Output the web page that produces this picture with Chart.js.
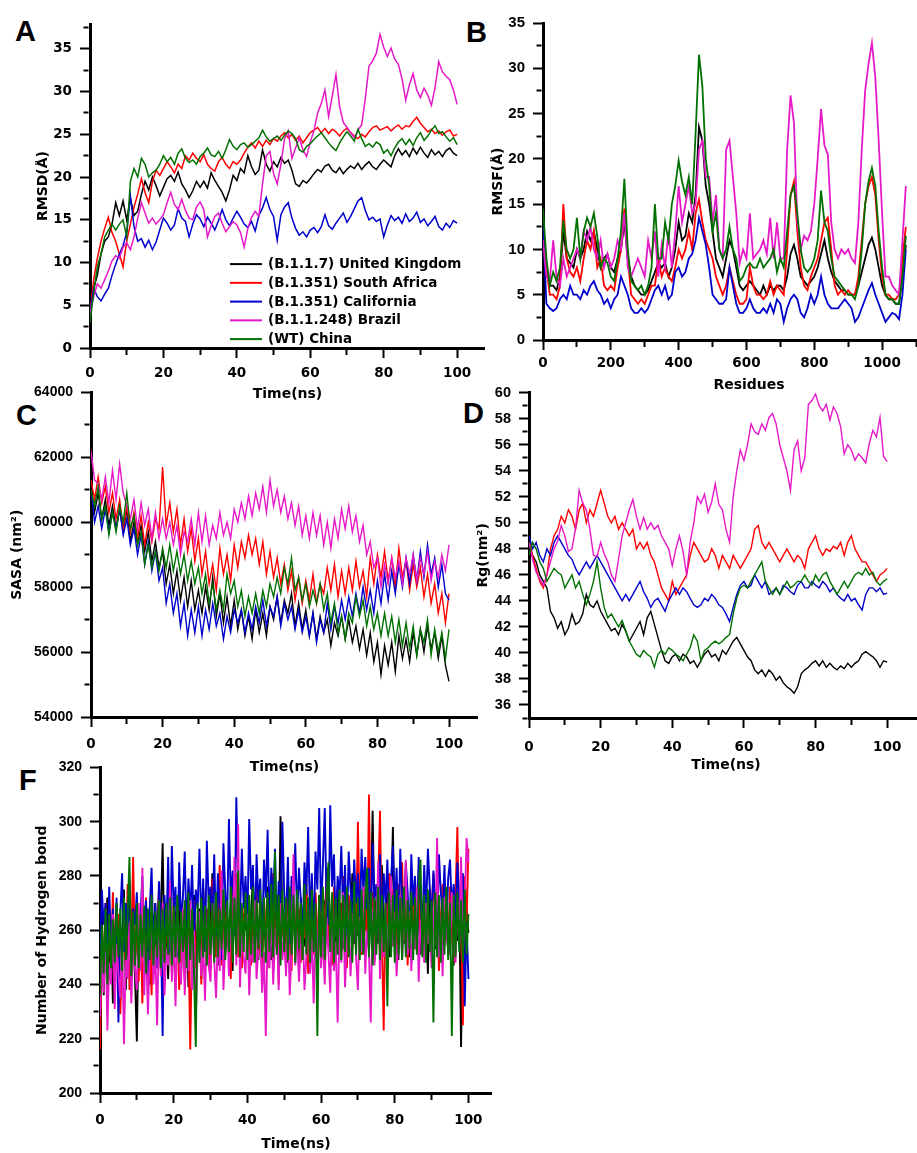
<!DOCTYPE html>
<html><head><meta charset="utf-8">
<script src="https://cdn.jsdelivr.net/npm/chart.js@4.4.1/dist/chart.umd.min.js"></script>
<style>
html,body{margin:0;padding:0;background:#fff;overflow:hidden;width:917px;height:1153px;}
canvas{position:absolute;}
.lbl{position:absolute;font-family:'Liberation Sans',Arial,sans-serif;font-weight:bold;font-size:29px;line-height:29px;color:#000;}
</style></head><body>
<div class="lbl" style="left:15px;top:17px">A</div>
<div class="lbl" style="left:466px;top:18px">B</div>
<div class="lbl" style="left:16px;top:401px">C</div>
<div class="lbl" style="left:463px;top:399px">D</div>
<div class="lbl" style="left:19px;top:766px">F</div>
<canvas id="cA" width="450" height="395" style="left:35px;top:8px"></canvas>
<canvas id="cB" width="465" height="388" style="left:490px;top:6px"></canvas>
<canvas id="cC" width="469" height="400" style="left:9px;top:376px"></canvas>
<canvas id="cD" width="459" height="398" style="left:475px;top:376px"></canvas>
<canvas id="cF" width="458" height="402" style="left:34px;top:751px"></canvas>
<script>
// ---------- names, colours ----------
const seriesNames = ['(B.1.1.7) United Kingdom','(B.1.351) South Africa','(B.1.351) California','(B.1.1.248) Brazil','(WT) China'];
const seriesColors = ['#000000','#ff0000','#0000cc','#e619c8','#007000'];
const drawOrder = [4,3,2,1,0];

// ---------- tick labels ----------
const timeLabels = [0,20,40,60,80,100];
const residueLabels = [0,200,400,600,800,1000];
const rmsdLabels = [0,5,10,15,20,25,30,35];
const rmsfLabels = [0,5,10,15,20,25,30,35];
const sasaLabels = [54000,56000,58000,60000,62000,64000];
const rgLabels = [36,38,40,42,44,46,48,50,52,54,56,58,60];
const hbondLabels = [200,220,240,260,280,300,320];

// ---------- sampling grids ----------
const timeA = Array.from({length:101},(_,i)=>i);
const residues = Array.from({length:108},(_,i)=>i*10);
const timeF = Array.from({length:201},(_,i)=>i/2);

// ---------- A: RMSD ----------
const rmsdUK = [3.5,7,8.5,11,12.5,13,14.5,17,15.5,17.2,15,
17.5,15.5,16,18,19.5,18.5,20,19,17.8,18.8,
19.8,20.2,19.5,20.6,19.2,18.5,17.6,18.4,19.5,18.8,
19.5,18.7,20.5,19.6,18.9,18.2,17.2,18.5,20.2,19.6,
21,20.5,22.5,21.2,20.3,20.8,23.2,21.5,20.7,21.8,
21.2,22.3,21.6,22,20.8,19.2,18.9,19.6,19.3,19.8,
20.4,20.9,20.6,21.3,21.5,20.8,20.5,21.1,20.4,20.9,
21.3,21.0,21.6,20.9,21.4,21.8,21.2,20.9,21.5,22,
21.6,21.2,22.5,23.3,22.6,23.1,22.4,23.4,22.7,23.5,
22.8,22.3,23.2,22.6,23,22.4,23.1,23.4,22.8,22.5];
const rmsdSA = [4,8,10.5,12.5,14,15.3,13.5,12.5,11,9.5,12.5,
14.5,16.5,18,19.8,18.2,17,19.5,20.8,20.2,21,
21.8,21.2,20.5,21.5,21,22.5,22,22.8,22.2,21.8,
22.6,21.5,21,20.7,21.8,22.3,21.5,21,21.8,21.5,
22,22.8,23.5,24,23.4,24.2,23.6,24.3,23.8,24.5,
24.2,24.8,25.2,24.6,25,24.3,24.8,24,24.6,25.2,
25.5,25.8,25.2,25.7,25.1,25.6,25.3,24.8,25.4,25.7,
25.2,24.8,24.5,25,24.7,25.3,25.8,26,25.5,25.7,
25.9,25.4,25.8,26.1,25.6,26,25.9,26.5,27,26.3,
25.8,25.3,25.6,25.1,25.4,24.9,25.3,25.5,24.8,25];
const rmsdCA = [4,7,6,5.5,6.3,7,8.5,9.8,11,12,13.5,
17.8,14.2,12.5,12.8,11.8,12.6,11.5,12.4,13.8,15.2,
14.6,13.8,14.4,16.3,15.2,14.8,13,14.5,15.6,15.1,
14.2,15.3,14.6,13.8,14.9,16.2,15,14.3,15.2,16,
15.3,14.5,14.1,14.8,13.7,15.5,16.4,17.6,16.2,15.4,
12.6,15.6,16.5,17,15.2,14,13.2,13.6,13,13.8,
14.1,13.5,14.2,15.6,14.3,13.9,14.6,15.2,15.8,14.7,
15.4,16.3,17.2,17.6,16.1,15,15.3,14.8,15.1,13,
14.4,15.5,14.9,15.3,14.6,15.7,14.8,15.2,15.9,14.7,
15.1,14.3,14.8,15.4,14.2,13.8,14.6,14.1,14.9,14.6];
const rmsdBR = [4,6,7.5,7,8,9,10.2,10.8,10.5,11.8,12.3,
11.5,13,15.2,17,15.8,14.6,15.2,14.5,15,15.6,
17,18.2,16.8,16.2,17.4,16.1,15.2,15,16.5,17.1,
16.2,13,14.3,15.4,15.8,14.6,13.6,14.2,14.8,14.4,
13.5,11.8,14,15.3,16,15.4,19.2,22.5,23,20.4,
19.2,21.5,24.5,25.4,22.2,23.4,24.6,23.2,22.4,24.1,
25.4,27.5,28.6,30.2,27.1,29.5,32,28.2,26.4,25.8,
25.2,24.6,25.5,26.1,29.2,33,33.6,34.5,36.7,35.2,
34.1,35.1,33.8,33.2,31.5,29,30.8,32.1,30.2,29.3,
30.4,29.6,28.4,30.5,33.5,32.3,31.8,31.4,30.2,28.5];
const rmsdCN = [3,6.5,9.5,11,13,13.8,14.5,13.8,14.5,15,13,
19.5,21,20,22.2,21.5,20,20.5,20.8,21.5,22.5,
21.8,22.3,21.5,22.8,23.3,22.2,21.7,22,21.5,22.4,
22.8,23.4,22.6,22.4,23,22.2,23.2,24.4,23.6,23.2,
23.8,24,23.5,23.8,24.2,24.6,25.5,24.7,24.2,24.5,
24.8,24.3,24.9,25.4,25.1,24.5,23.2,22.9,23.6,23.9,
24.4,24.8,25.2,24.6,24,23.5,23.1,24,24.7,25.3,
24.8,24.2,25.6,24.5,23.6,23.9,23.5,24.1,23.8,22.8,
23.2,22.5,23.4,24.1,24.5,23.8,24.4,23.7,24.6,25.2,
24.3,24.8,25.5,26,25.1,25.3,24.7,24.2,24.6,23.8];

// ---------- B: RMSF ----------
const rmsfUK = [13,8,6,6,5.5,7,12,9,8.5,8,
10,9,10,12,11,12,10,8,9,9.5,
8,7.5,9,10,13,9,7,6,5.5,5,
5,5.5,6.5,7.5,8.5,8,8.5,7,8,10,
13,11,11.5,14,13,16,23.5,22,17,15,
12,9,8,7,9,11,10,8,6,5.5,
6,6.5,6,5.5,5,6,5,6,5.5,6,
6,5.5,7,9.5,10.5,9,7,6.5,6,6.5,
7,8,9.5,11,9,7.5,6.5,6,5.5,5.5,
5,5,5,6,7.5,9,10.5,11.3,10,8,
6,5,4.5,4.5,4,4,7,10.5];
const rmsfSA = [12,8,5,5,4.5,6,15,9,7.5,7,
8,6.5,9,11,10,12,8,9,6,5.5,
6,5.5,8,10,14.5,9,5,4.5,4,4.5,
4,5,6,6,9,7,8,7,6.5,8,
10,9,10,12,10,14,15.5,13,11,10,
9,7,6,5,6,8,6.5,5,4,4,
4.5,8,6,5,5,4.5,5,6.5,5,6,
5.5,5,10,16,17.5,12,8,6,5.5,7,
8,9,11,13,13.5,10,6,5,5.5,5,
5.5,5,5,7,11,15,17,18,16,11,
7,5,5,4.5,4.5,5,9,12.5];
const rmsfCA = [13,4,3.5,3.2,3.5,4.5,5,4.5,6,5,
5,4.5,5.5,5,6,6.5,5.5,5,4,4.5,
3.5,4.5,5,7,6,5,3.5,3,3,3.5,
3,3.5,4.5,5.5,6,5,6,4.5,5,7.5,
8,7,7.5,9,9.5,11,13.5,12,10.5,8,
5,4.5,4,4,4.5,8,6,4,3,3,
3.5,4.5,3.5,3,3,3.5,3,4,3,4.5,
4,2,3.5,4.5,5,4.5,3,2.5,3.5,5,
4,5,7,5,4,3.5,3.5,3.5,4,4.5,
4,3.5,2,2.5,3.5,4.5,5.5,6.3,5,4,
3,2,2.5,3,2.8,2.3,5,10];
const rmsfBR = [11,7,6.5,11,7,6,9,7,8,9,
10,9,12,11,12.5,10,9,11,8,9.5,
8,9,11,10,14,8,7,8,9,8,
7,11,9,12,7,10.5,8,12,8,12,
17,13,15,17,14,15,21,22,18,18,
13,16,10,9,21,22,18,14,8.5,10,
9,14,9,9.5,10,11,9.5,13.5,9,13,
9,9,21,27,24,13,10,11.5,11,12,
15,20,25.5,21.5,20.5,13,10,9,10,9.5,
10,9,8.5,13,21,27.5,30.5,32.8,29,22,
14,7,7,6,5.5,5,11,17];
const rmsfCN = [14.5,9,6,7.5,6.5,8,13.2,10,9,10,
13.5,9,12,13.5,12.5,14,11.5,8,9,8.5,
7,6.5,9,12,17.8,10,6.5,6,5.5,6,
5,6,8,15,9,9,13,11,15,17,
19.8,17.5,16,18,15,22.8,31.5,28,20,17,
12,14,10,9,10,12.5,10,9,6.5,7,
8,8.5,8,8,9,8,8.5,9,10,7.5,
9,8,12,16,17,14,10,8,7.5,8,
9,11,16.5,13,12,9,7,6.5,6,5.5,
5,5,4.5,6,10,15,17.5,19,17,12,
8,5,4.5,4.5,4,4,7,11.5];

// ---------- C: SASA ----------
const sasaUK = [60900,60300,60900,60100,60700,59900,60500,59800,60400,59700,60400,
59400,60000,59300,59900,59100,59700,58800,59400,58600,59100,
58100,58700,57800,58500,57600,58300,57400,58200,57300,57900,
57200,58000,57300,58300,57100,57800,56900,57700,56800,57600,
56700,57300,56500,57100,56400,57300,56600,57200,56500,57400,
57000,57700,56900,57600,57200,57800,56800,57500,56700,57300,
56500,57200,56400,57100,56600,57000,56200,56900,56500,57100,
56400,57000,56300,56800,56100,56700,55900,56600,55700,56300,
55300,56200,55600,56300,55400,56500,55800,56400,55700,56600,
55900,56700,56000,56800,56100,56600,55800,56500,55600,55100];
const sasaSA = [61300,60700,61400,60600,61100,60300,60900,60100,60700,59800,60500,
59700,60300,59500,60200,59300,60000,59400,60100,59800,61700,
59900,60600,59700,60400,59300,60100,59100,59800,58800,59500,
58400,59100,58100,58700,57900,59200,58400,59000,58200,59300,
58600,59400,58900,59600,59000,59500,58700,59400,58400,59100,
58300,58900,58100,58700,57900,58500,57600,58300,57500,58200,
57600,58400,57500,58100,57800,58600,57900,58700,57700,58500,
57800,58600,57900,58800,58000,58500,57700,58900,58100,59000,
58300,59100,58200,58900,58000,59200,58300,58800,57900,58700,
58000,58600,57700,58400,57500,58100,57200,57800,56900,57800];
const sasaCA = [61000,60000,60500,59800,60400,59700,60300,59800,60400,59600,60100,
59300,59800,59000,59600,58700,59400,58500,59100,58200,58600,
57500,58100,57200,57800,56800,57500,56500,57300,56600,57400,
56500,57300,56700,57500,56800,57200,56400,57100,56600,57300,
56900,57300,56600,57200,56700,57400,56900,57600,56800,57400,
57100,57700,56800,57500,57000,57400,56700,57300,56600,57100,
56500,57200,56300,57000,56600,57500,56700,57400,56900,57600,
57000,57700,57100,57800,57200,58000,57300,57900,57200,58200,
57500,58400,57600,58500,57800,58700,58000,58900,58100,59000,
58200,59100,58300,59300,58400,58900,58000,58700,57800,57600];
const sasaBR = [62200,61300,61200,60700,61400,60600,61600,60700,61800,60900,60500,
60100,60700,59800,60600,59900,60400,59500,60300,59500,60100,
59500,60000,59300,59900,59000,59700,59400,60100,59300,60300,
59400,60200,59300,59900,59500,60300,59600,60000,59500,60400,
60000,60600,60100,60800,60200,60900,60400,61100,60300,61300,
60500,61000,60300,60800,60100,60600,59900,60500,59600,60200,
59500,60300,59600,60200,59300,60000,59200,60100,59500,60400,
59800,60500,59700,60200,59400,59900,59000,59400,58600,58900,
58000,58700,58100,58900,58300,58800,58100,58900,58400,59000,
58200,58900,58400,59100,58200,58800,58300,59000,58500,59300];
const sasaCN = [61000,60500,61100,60100,60500,59600,60300,59700,60500,60000,60900,
59800,60200,59300,59700,58700,59300,58600,59100,58500,59200,
58600,59300,58500,59100,58400,59000,58200,58800,58100,58600,
57800,58400,57500,58100,57300,57900,57300,58400,57800,58200,
57400,57900,57100,57700,57200,57800,57200,57900,57400,58100,
57700,58300,57800,58600,58100,58900,57900,58300,57600,58100,
57400,57900,57500,58100,57300,57800,56900,57500,56600,57100,
56400,57200,56900,57700,57100,57600,56800,57400,56700,57200,
56500,57200,56500,57100,56300,57000,56200,56900,56100,56800,
55900,56700,56300,57000,55900,56700,56000,56600,55800,56700];

// ---------- D: Rg ----------
const rgUK = [48.5,47.5,47,46,45.5,45,43.2,42.7,41.9,42.4,41.4,
41.9,43,42.2,42.4,43,44.5,43.7,43.5,44,43.2,
42.7,42.2,41.7,41.9,41.4,42.2,41.7,40.9,41.4,41.9,
42.4,41.4,42.7,43.2,42.2,41.2,40.2,39.4,39.2,39.7,
39.9,39.4,39.9,39.7,39.2,39.4,38.9,39.4,39.9,40.2,
39.7,39.9,39.4,40.2,39.9,40.4,40.9,41.2,40.7,40.2,
39.7,39.4,38.7,38.4,38.7,38.2,38.7,38.4,37.9,38.2,
37.7,37.4,37.2,36.9,37.4,38.4,38.7,38.9,39.2,39.4,
39,39.4,38.9,39.2,38.9,38.7,39,38.8,39.2,38.9,
39.2,39.4,39.9,40.1,39.9,39.7,39.4,38.9,39.4,39.3];
const rgSA = [48.5,47.5,46.5,45.5,45,46,48,49,49.5,50.5,50,
51,50.5,49.5,51,51.5,50,51,50.5,51.5,52.5,
51.5,50.5,50,50.5,49.5,50,49.5,49,49.5,48,
48.5,48,48.5,47.5,47,46,45,44.5,44,45.5,
44.5,45,45.5,46,47.5,48.5,48,47.5,47,47.2,
48,47.5,46.5,47.5,47,46.5,47.5,47,46.5,47,
47.5,48,49.5,49.8,48.5,48,48.5,48,47.5,47,
47.5,48,47.5,47,47.5,47.2,46.5,48,48.5,49,
48,47.5,48,47.8,48.2,48,48.5,47.5,48.5,49,
48,47.5,47,47,46.5,46,45.5,46,46.2,46.5];
const rgCA = [49,48,48.5,47.5,47,48,47.5,48.5,49,48.5,48,
47.5,47.2,46.5,46,46.5,47,46.5,47,47.5,47,
46.5,46,45.5,45,44.5,44,44.5,44,44.5,45,
45.5,44.7,44.2,43.5,44,44.2,43.7,43.2,44,44.5,
45,44.5,45,44.7,44.2,43.7,43.5,43.7,44.2,44,
44.5,44.2,43.7,43.5,43,42.4,43.5,44.5,45.2,45.5,
45,45.2,46,45.5,45,45.5,44.5,44.7,45,44.5,
45.2,45,44.7,44.5,45.2,45.5,45,45,45.5,45.2,
45,45.5,45.2,44.7,45,44.5,44.2,44,44.5,44,
44.2,43.7,43.3,44.5,45,45,44.7,45,44.5,44.6];
const rgBR = [48.5,47.2,46.2,45.7,45.2,46,47,48,48.6,49.8,49,
47.8,48,49.6,52.5,51.5,51,49.5,47.5,47.4,48.5,
47.6,47,46,45.5,47.2,49,50,51,51.8,50.5,
49.5,50.4,49.5,50,49.5,49.8,49,48.5,48,46.7,
48,49,47.8,46,48.5,50,52,51.5,52.2,50.8,
51.6,53,51.4,51,49.5,48.5,52,54,55.6,54.8,
56,57.6,57,56.8,57.6,57.1,58.1,58.4,57.6,56,
55,54,52.5,55.6,56.3,54,55,59.1,59.4,59.9,
59,58.6,59.1,57.9,58.9,58.4,57.4,55.3,56,55.6,
54.8,55.3,55,54.6,56.1,57.1,56.6,58.1,55.1,54.7];
const rgCN = [47.5,48.5,48,47,46.5,45.5,46,46.5,46.2,46,45,
45.5,46,45,45.5,44.5,43.7,44.5,45.5,47,45,
43.5,42.7,43,42.5,42,42.5,41.7,40.9,40.4,39.9,
39.7,40.2,39.9,39.7,38.9,39.9,40.2,39.9,40.4,40.2,
39.9,39.7,39.4,39.9,40.4,41.4,40.9,39.4,40.2,40.4,
40.7,40.9,40.7,40.9,41.2,41.4,43,44.2,45,45.2,
45,45.5,46,46.5,47,45.5,45,44.5,45,44.5,
45,45.5,45,45.2,45.5,45.5,46,45.5,45.2,46,
45.5,46,46.2,45.5,45,44.5,45,45.5,45,45.5,
46,46.2,46,46.5,46,46.2,45.5,45.2,45.5,45.7];

// ---------- F: hydrogen bonds ----------
const hbUK = [244,268,236,259,272,248,263,233,256,270,
241,262,252,275,238,260,247,268,255,243,
219,264,250,272,245,258,267,240,261,253,
270,246,257,265,292,250,263,242,271,256,
248,267,259,276,244,262,253,270,239,265,
257,273,249,261,268,242,275,256,264,250,
266,281,253,262,247,270,259,274,251,263,
257,269,245,278,262,254,271,248,266,260,
274,252,265,280,256,263,249,271,258,267,
254,276,262,249,268,259,273,253,302,264,
257,270,248,266,261,279,252,268,245,272,
260,254,275,263,249,270,258,266,241,273,
262,250,271,258,283,254,267,261,248,276,
259,270,253,264,247,272,262,281,255,268,
258,273,251,266,260,278,252,269,304,263,
271,255,267,284,258,262,274,250,268,298,
257,265,249,272,261,255,278,263,250,269,
262,274,256,267,251,270,259,266,244,275,
258,267,253,271,262,249,276,257,265,252,
270,261,247,268,256,274,217,263,251,268,
259];
const hbSA = [216,258,243,270,236,262,249,274,240,257,
266,229,251,262,245,277,238,255,287,248,
260,241,268,233,256,272,243,259,236,266,
251,262,275,246,258,240,270,253,264,244,
273,250,261,238,266,255,242,269,257,216,
260,271,246,258,264,240,276,252,268,255,
245,279,262,250,267,284,247,260,271,256,
264,242,275,258,281,250,268,246,263,276,
270,254,247,266,259,278,251,264,242,272,
258,246,269,262,281,254,267,240,275,259,
263,250,272,256,245,277,261,253,268,248,
266,257,279,244,270,262,251,274,258,265,
249,271,260,283,254,266,247,276,262,257,
270,252,280,261,246,273,265,253,277,259,
300,264,251,276,268,255,310,262,274,249,
266,278,304,258,223,270,262,281,254,275,
263,250,277,260,285,256,271,247,268,261,
274,253,266,279,257,270,249,276,262,258,
268,281,255,272,245,264,277,259,269,252,
276,261,248,273,298,256,269,225,280,262,
290];
const hbCA = [248,275,262,270,245,276,253,268,241,272,
226,266,281,252,270,258,279,244,268,262,
274,249,266,280,257,271,237,268,283,254,
270,246,278,262,221,273,258,287,252,291,
268,276,250,285,263,272,289,257,279,266,
284,255,275,268,290,261,279,252,293,270,
276,262,288,258,281,267,249,292,274,263,
301,271,282,258,309,276,264,290,268,280,
262,301,275,284,256,288,270,279,251,286,
272,297,261,283,269,290,258,278,266,300,
274,262,287,255,280,269,292,264,283,271,
259,285,273,298,264,281,256,289,275,305,
267,284,305,270,262,306,276,288,259,280,
272,291,265,284,258,289,275,266,286,270,
281,262,290,274,287,268,283,259,292,271,
277,264,288,256,281,270,286,261,279,291,
267,283,258,290,272,265,285,274,256,288,
269,280,262,287,271,259,284,266,290,276,
263,282,270,257,288,274,266,284,259,279,
286,268,277,262,285,271,258,281,232,263,
242];
const hbBR = [228,252,237,262,223,248,240,266,231,255,
244,235,259,218,250,242,263,233,256,246,
238,270,245,283,236,258,229,251,266,240,
254,225,261,243,270,236,253,247,278,241,
259,232,264,249,240,268,236,255,245,271,
238,260,228,252,267,243,256,234,262,247,
241,270,249,235,259,245,282,238,255,264,
243,268,252,287,247,299,239,261,250,244,
266,236,258,248,271,242,254,261,237,252,
221,259,246,268,240,256,263,238,270,249,
257,243,265,236,252,288,247,260,241,255,
262,238,250,268,244,257,233,263,249,271,
246,258,240,265,252,237,269,245,256,226,
261,248,274,239,255,266,243,258,271,250,
238,265,252,276,244,260,253,226,268,247,
257,285,242,263,250,270,246,261,280,254,
266,243,258,273,249,262,286,251,267,245,
260,253,276,241,264,257,248,270,255,262,
246,268,259,294,250,265,243,272,257,261,
251,274,264,248,269,256,287,253,268,294,
285];
const hbCN = [236,262,244,268,240,266,246,264,248,270,
250,268,245,272,249,266,287,243,267,247,
270,246,266,250,269,244,268,249,273,247,
267,250,271,246,268,248,270,251,272,247,
269,250,273,248,267,252,271,246,274,249,
268,245,217,270,248,272,250,269,247,273,
251,270,248,274,250,268,253,275,249,271,
252,276,248,272,251,282,250,270,252,274,
249,273,251,276,248,271,253,275,250,272,
248,274,252,277,250,289,251,273,247,275,
252,272,249,276,251,273,248,275,253,270,
249,277,251,272,248,275,252,270,221,273,
250,276,249,271,285,252,274,248,272,251,
275,249,273,252,276,250,271,248,278,251,
272,249,275,251,271,283,250,274,247,272,
251,276,249,273,252,270,232,274,250,273,
248,275,251,272,249,276,250,271,253,274,
249,272,251,276,286,250,273,248,275,252,
271,226,274,250,273,248,272,251,276,249,
270,221,273,250,274,252,271,248,275,251,
266];

// ---------- helpers ----------
Chart.defaults.color = '#000';
Chart.defaults.font.family = 'DejaVu Sans';
const titleFont = {family:'DejaVu Sans', size:14, weight:'bold', lineHeight:1.2};
const dvFont = {family:'DejaVu Sans', size:13.5, weight:'bold'};
const lsFont = s => ({family:'Liberation Sans', size:s, weight:'bold'});
const hasLabel = (arr, v) => arr.some(l => Math.abs(l - v) < 1e-6);

const keyPlugin = {
  id: 'seriesKey',
  afterDraw(chart) {
    const {ctx, chartArea} = chart;
    const x0 = chartArea.left + 140, y0 = chartArea.top + 240, row = 18.75;
    ctx.save();
    ctx.font = 'bold 13.5px "DejaVu Sans"';
    ctx.textBaseline = 'middle';
    ctx.textAlign = 'left';
    chart.data.datasets.forEach((ds, k) => {
      const y = y0 + k * row;
      ctx.strokeStyle = ds.borderColor; ctx.lineWidth = 2;
      ctx.beginPath(); ctx.moveTo(x0, y); ctx.lineTo(x0 + 32, y); ctx.stroke();
      ctx.fillStyle = '#000'; ctx.fillText(ds.label, x0 + 38, y + 0.5);
    });
    ctx.restore();
  }
};

function axis(o, horizontal) {
  return {
    type: 'linear', min: o.min, max: o.max,
    afterFit: s => { if (horizontal) s.height = o.size; else s.width = o.size; },
    border: {display: true, width: 3, color: '#000'},
    grid: {
      display: true, drawOnChartArea: false, drawTicks: true,
      tickLength: 10, tickWidth: 2, tickColor: '#000',
      tickBorderDash: c => (c.tick && !hasLabel(o.labels, c.tick.value)) ? [5, 50] : [],
      tickBorderDashOffset: c => (horizontal ? 0 : 51.5)
    },
    ticks: {
      stepSize: o.step, autoSkip: false, includeBounds: false, maxRotation: 0, minRotation: 0,
      padding: o.pad, color: '#000', font: o.font,
      callback: v => hasLabel(o.labels, v) ? String(v) : ''
    },
    title: {display: true, text: o.title, font: titleFont, color: '#000', padding: 0}
  };
}

function makeChart(id, xs, series, xo, yo, lw, withKey) {
  new Chart(document.getElementById(id), {
    type: 'line',
    data: {
      datasets: series.map((vals, k) => ({
        label: seriesNames[k],
        data: vals.map((v, i) => ({x: xs[i], y: v})),
        borderColor: seriesColors[k], backgroundColor: seriesColors[k],
        borderWidth: lw, pointRadius: 0, fill: false, tension: 0, order: drawOrder[k]
      }))
    },
    options: {
      responsive: false, animation: false, devicePixelRatio: 1,
      layout: {padding: {top: 12, left: 0, right: 0, bottom: 0}},
      plugins: {legend: {display: false}, tooltip: {enabled: false}},
      scales: {x: axis(xo, true), y: axis(yo, false)}
    },
    plugins: withKey ? [keyPlugin] : []
  });
}

makeChart('cA', timeA, [rmsdUK, rmsdSA, rmsdCA, rmsdBR, rmsdCN],
  {min:0, max:107.6, step:10, labels:timeLabels, size:55, pad:7, font:dvFont, title:'Time(ns)'},
  {min:0, max:37.9, step:2.5, labels:rmsdLabels, size:55, pad:8, font:dvFont, title:'RMSD(Å)'},
  1.5, true);
makeChart('cB', residues, [rmsfUK, rmsfSA, rmsfCA, rmsfBR, rmsfCN],
  {min:0, max:1215, step:100, labels:residueLabels, size:54, pad:5, font:dvFont, title:'Residues'},
  {min:0, max:35, step:2.5, labels:rmsfLabels, size:53, pad:8, font:lsFont(15), title:'RMSF(Å)'},
  1.8, false);
makeChart('cC', timeA, [sasaUK, sasaSA, sasaCA, sasaBR, sasaCN],
  {min:0, max:108.1, step:10, labels:timeLabels, size:59, pad:9, font:dvFont, title:'Time(ns)'},
  {min:54000, max:64000, step:1000, labels:sasaLabels, size:82, pad:8, font:lsFont(14), title:'SASA (nm²)'},
  1.4, false);
makeChart('cD', timeA, [rgUK, rgSA, rgCA, rgBR, rgCN],
  {min:0, max:110, step:10, labels:timeLabels, size:56, pad:11, font:dvFont, title:'Time(ns)'},
  {min:35, max:60, step:1, labels:rgLabels, size:54, pad:8, font:lsFont(14.5), title:'Rg(nm²)'},
  1.4, false);
makeChart('cF', timeF, [hbUK, hbSA, hbCA, hbBR, hbCN],
  {min:0, max:106.4, step:10, labels:timeLabels, size:60, pad:9, font:dvFont, title:'Time(ns)'},
  {min:200, max:320, step:10, labels:hbondLabels, size:66, pad:8, font:lsFont(14), title:'Number of Hydrogen bond'},
  1.9, false);
</script>
</body></html>
